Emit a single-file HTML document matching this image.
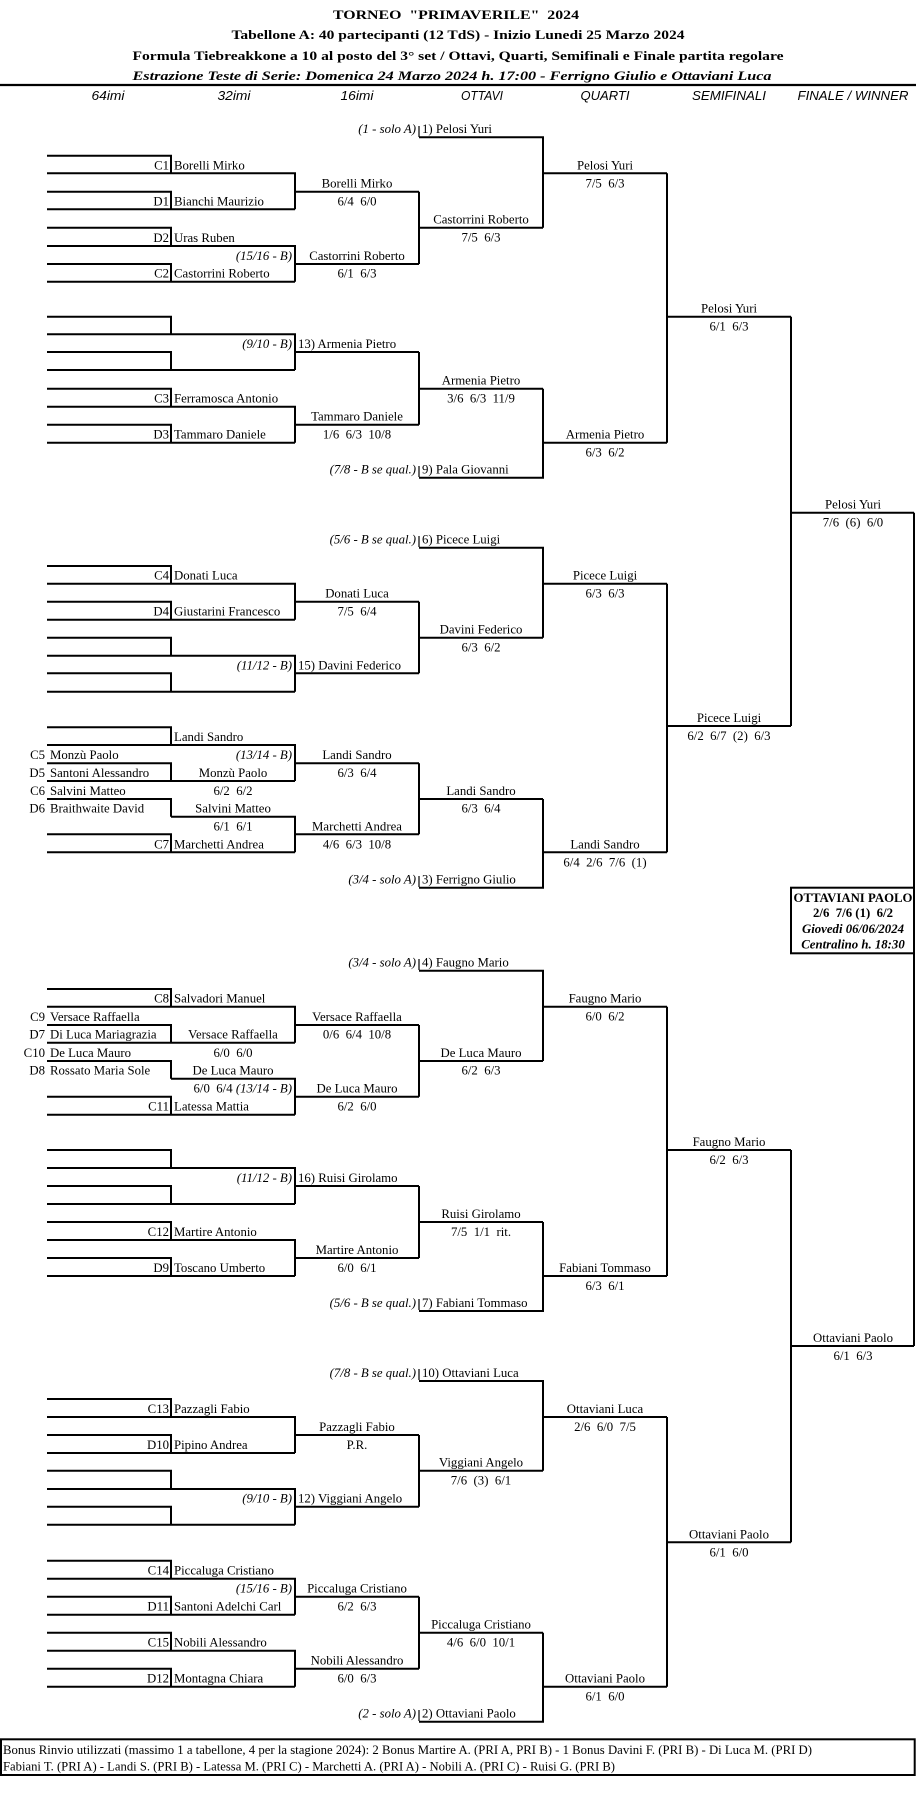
<!DOCTYPE html>
<html><head><meta charset="utf-8"><style>
html,body{margin:0;padding:0;background:#fff;}
svg{display:block;}
text{font-family:"Liberation Serif",serif;font-size:12.8px;fill:#000;white-space:pre;}
.i{font-style:italic;}
.c{text-anchor:middle;}
.e{text-anchor:end;}
.h{font-family:"Liberation Sans",sans-serif;font-style:italic;font-size:13px;text-anchor:middle;}
.b{font-weight:bold;}
</style></head><body>
<svg width="916" height="1793" viewBox="0 0 916 1793" xmlns="http://www.w3.org/2000/svg">
<rect width="916" height="1793" fill="#fff"/>
<!-- header -->
<text class="b c" x="456" y="19" font-size="15" textLength="246" lengthAdjust="spacingAndGlyphs">TORNEO  "PRIMAVERILE"  2024</text>
<text class="b c" x="458" y="39" font-size="14" textLength="453" lengthAdjust="spacingAndGlyphs">Tabellone A: 40 partecipanti (12 TdS) - Inizio Lunedi 25 Marzo 2024</text>
<text class="b c" x="458" y="60" font-size="14" textLength="651" lengthAdjust="spacingAndGlyphs">Formula Tiebreakkone a 10 al posto del 3° set / Ottavi, Quarti, Semifinali e Finale partita regolare</text>
<text class="b i c" x="452" y="80" font-size="14" textLength="639" lengthAdjust="spacingAndGlyphs">Estrazione Teste di Serie: Domenica 24 Marzo 2024 h. 17:00 - Ferrigno Giulio e Ottaviani Luca</text>
<line x1="0" y1="85" x2="916" y2="85" stroke="#000" stroke-width="2.2"/>
<text class="h" x="108" y="100" textLength="33" lengthAdjust="spacingAndGlyphs">64imi</text>
<text class="h" x="234" y="100" textLength="33" lengthAdjust="spacingAndGlyphs">32imi</text>
<text class="h" x="357" y="100" textLength="33" lengthAdjust="spacingAndGlyphs">16imi</text>
<text class="h" x="482" y="100" textLength="42" lengthAdjust="spacingAndGlyphs">OTTAVI</text>
<text class="h" x="605" y="100" textLength="49" lengthAdjust="spacingAndGlyphs">QUARTI</text>
<text class="h" x="729" y="100" textLength="74" lengthAdjust="spacingAndGlyphs">SEMIFINALI</text>
<text class="h" x="853" y="100" textLength="111" lengthAdjust="spacingAndGlyphs">FINALE / WINNER</text>

<g fill="none" stroke="#000" stroke-width="2">
<!-- sec1 -->
<path d="M47 155.7H171V173.3M47 173.3H295V209.3M47 191.7H171V209.3M47 209.3H295M295 191.7H419"/>
<path d="M47 227.7H171V246M47 246H295V281.7M47 264H171V281.7M47 281.7H295M295 264H419"/>
<path d="M419 191.7V264M419 227.7H543M419 137.3H543V227.7M543 173.3H667"/>
<!-- sec2 -->
<path d="M47 316.7H171V334.3M47 334.3H295V370M47 352H171V370M47 370H295M295 352H419"/>
<path d="M47 388.7H171V406.7M47 406.7H295V442.7M47 424.7H171V442.7M47 442.7H295M295 424.7H419"/>
<path d="M419 352V424.7M419 388.7H543M419 477.7H543V388.7M543 442.7H667"/>
<!-- sec3 -->
<path d="M47 566H171V583.7M47 583.7H295V619.7M47 601.7H171V619.7M47 619.7H295M295 601.7H419"/>
<path d="M47 637.7H171V655.7M47 655.7H295V691.7M47 673.3H171V691.7M47 691.7H295M295 673.3H419"/>
<path d="M419 601.7V673.3M419 637.7H543M419 547.7H543V637.7M543 583.7H667"/>
<!-- sec4 -->
<path d="M47 727.3H171V745M47 745H295V781M47 763.3H171V781M47 781H295M295 763.3H419"/>
<path d="M47 799H171V816.7M171 816.7H295V852.3M47 834.3H171V852.3M47 852.3H295M295 834.3H419"/>
<path d="M419 763.3V834.3M419 799H543M419 887.7H543V799M543 852.3H667"/>
<!-- sec5 -->
<path d="M47 989H171V1006.7M47 1006.7H295V1042.7M47 1025H171V1042.7M47 1042.7H295M295 1025H419"/>
<path d="M47 1061H171V1078.7M171 1078.7H295V1114.7M47 1096.7H171V1114.7M47 1114.7H295M295 1096.7H419"/>
<path d="M419 1025V1096.7M419 1061H543M419 970.7H543V1061M543 1006.7H667"/>
<!-- sec6 -->
<path d="M47 1150H171V1168M47 1168H295V1204M47 1186H171V1204M47 1204H295M295 1186H419"/>
<path d="M47 1222H171V1240M47 1240H295V1276M47 1258H171V1276M47 1276H295M295 1258H419"/>
<path d="M419 1186V1258M419 1222H543M419 1311H543V1222M543 1276H667"/>
<!-- sec7 -->
<path d="M47 1399H171V1417M47 1417H295V1453M47 1435H171V1453M47 1453H295M295 1435H419"/>
<path d="M47 1470.7H171V1489M47 1489H295V1524.7M47 1506.7H171V1524.7M47 1524.7H295M295 1506.7H419"/>
<path d="M419 1435V1506.7M419 1470.7H543M419 1381H543V1470.7M543 1417H667"/>
<!-- sec8 -->
<path d="M47 1560.7H171V1578.7M47 1578.7H295V1614.7M47 1596.7H171V1614.7M47 1614.7H295M295 1596.7H419"/>
<path d="M47 1632.7H171V1650.7M47 1650.7H295V1686.7M47 1668.7H171V1686.7M47 1686.7H295M295 1668.7H419"/>
<path d="M419 1596.7V1668.7M419 1632.7H543M419 1721.7H543V1632.7M543 1686.7H667"/>
<!-- quarters/semis/final -->
<path d="M667 173.3V442.7M667 583.7V852.3M667 1006.7V1276M667 1417V1686.7"/>
<path d="M667 316.7H791M667 726H791M667 1150H791M667 1542.3H791"/>
<path d="M791 316.7V726M791 1150V1542.3M791 512.7H914M791 1346H914M914 512.7V1346"/>
</g>
<!-- seed ticks -->
<g stroke="#000" stroke-width="1.2">
<line x1="419" y1="126" x2="419" y2="137"/>
<line x1="419" y1="466" x2="419" y2="477"/>
<line x1="419" y1="536" x2="419" y2="547"/>
<line x1="419" y1="876" x2="419" y2="887"/>
<line x1="419" y1="959" x2="419" y2="970"/>
<line x1="419" y1="1299" x2="419" y2="1310"/>
<line x1="419" y1="1369" x2="419" y2="1380"/>
<line x1="419" y1="1710" x2="419" y2="1721"/>
</g>

<!-- sec1 labels -->
<text class="i e" x="416" y="133">(1 - solo A)</text><text x="422" y="133">1) Pelosi Yuri</text>
<text class="e" x="169" y="169.3">C1</text><text x="174" y="169.3">Borelli Mirko</text>
<text class="e" x="169" y="205.3">D1</text><text x="174" y="205.3">Bianchi Maurizio</text>
<text class="e" x="169" y="242">D2</text><text x="174" y="242">Uras Ruben</text>
<text class="i e" x="292" y="260">(15/16 - B)</text>
<text class="e" x="169" y="277.7">C2</text><text x="174" y="277.7">Castorrini Roberto</text>
<text class="c" x="357" y="187.7">Borelli Mirko</text><text class="c" x="357" y="205.3">6/4  6/0</text>
<text class="c" x="357" y="260">Castorrini Roberto</text><text class="c" x="357" y="277.7">6/1  6/3</text>
<text class="c" x="481" y="223.7">Castorrini Roberto</text><text class="c" x="481" y="241.5">7/5  6/3</text>
<text class="c" x="605" y="169.3">Pelosi Yuri</text><text class="c" x="605" y="187.3">7/5  6/3</text>
<!-- sec2 -->
<text class="i e" x="292" y="348">(9/10 - B)</text><text x="298" y="348">13) Armenia Pietro</text>
<text class="e" x="169" y="402.7">C3</text><text x="174" y="402.7">Ferramosca Antonio</text>
<text class="e" x="169" y="438.7">D3</text><text x="174" y="438.7">Tammaro Daniele</text>
<text class="c" x="357" y="420.7">Tammaro Daniele</text><text class="c" x="357" y="438.7">1/6  6/3  10/8</text>
<text class="c" x="481" y="384.7">Armenia Pietro</text><text class="c" x="481" y="402.7">3/6  6/3  11/9</text>
<text class="i e" x="416" y="473.7">(7/8 - B se qual.)</text><text x="422" y="473.7">9) Pala Giovanni</text>
<text class="c" x="605" y="438.7">Armenia Pietro</text><text class="c" x="605" y="456.7">6/3  6/2</text>
<text class="c" x="729" y="312.7">Pelosi Yuri</text><text class="c" x="729" y="330.7">6/1  6/3</text>
<text class="c" x="853" y="508.7">Pelosi Yuri</text><text class="c" x="853" y="526.7">7/6  (6)  6/0</text>
<!-- sec3 -->
<text class="i e" x="416" y="543.7">(5/6 - B se qual.)</text><text x="422" y="543.7">6) Picece Luigi</text>
<text class="e" x="169" y="579.7">C4</text><text x="174" y="579.7">Donati Luca</text>
<text class="e" x="169" y="615.7">D4</text><text x="174" y="615.7">Giustarini Francesco</text>
<text class="c" x="357" y="597.7">Donati Luca</text><text class="c" x="357" y="615.7">7/5  6/4</text>
<text class="i e" x="292" y="669.3">(11/12 - B)</text><text x="298" y="669.3">15) Davini Federico</text>
<text class="c" x="481" y="633.7">Davini Federico</text><text class="c" x="481" y="651.7">6/3  6/2</text>
<text class="c" x="605" y="579.7">Picece Luigi</text><text class="c" x="605" y="597.7">6/3  6/3</text>
<text class="c" x="729" y="722">Picece Luigi</text><text class="c" x="729" y="740">6/2  6/7  (2)  6/3</text>
<!-- sec4 -->
<text x="174" y="741">Landi Sandro</text>
<text class="e" x="45" y="759">C5</text><text x="50" y="759">Monzù Paolo</text>
<text class="i e" x="292" y="759">(13/14 - B)</text><text class="c" x="357" y="759">Landi Sandro</text>
<text class="e" x="45" y="777">D5</text><text x="50" y="777">Santoni Alessandro</text>
<text class="c" x="233" y="777">Monzù Paolo</text><text class="c" x="357" y="777">6/3  6/4</text>
<text class="e" x="45" y="795">C6</text><text x="50" y="795">Salvini Matteo</text>
<text class="c" x="233" y="795">6/2  6/2</text><text class="c" x="481" y="795">Landi Sandro</text>
<text class="e" x="45" y="812.7">D6</text><text x="50" y="812.7">Braithwaite David</text>
<text class="c" x="233" y="812.7">Salvini Matteo</text><text class="c" x="481" y="812.7">6/3  6/4</text>
<text class="c" x="233" y="830.3">6/1  6/1</text><text class="c" x="357" y="830.3">Marchetti Andrea</text>
<text class="e" x="169" y="848.3">C7</text><text x="174" y="848.3">Marchetti Andrea</text>
<text class="c" x="357" y="848.3">4/6  6/3  10/8</text>
<text class="c" x="605" y="848.3">Landi Sandro</text><text class="c" x="605" y="866.3">6/4  2/6  7/6  (1)</text>
<text class="i e" x="416" y="883.7">(3/4 - solo A)</text><text x="422" y="883.7">3) Ferrigno Giulio</text>
<!-- winner box -->
<rect x="791" y="887.7" width="123" height="65.6" fill="#fff" stroke="#000" stroke-width="2"/>
<text class="b c" x="853" y="902" textLength="119" lengthAdjust="spacingAndGlyphs">OTTAVIANI PAOLO</text>
<text class="b c" x="853" y="917">2/6  7/6 (1)  6/2</text>
<text class="b i c" x="853" y="933">Giovedi 06/06/2024</text>
<text class="b i c" x="853" y="948.5">Centralino h. 18:30</text>
<!-- sec5 -->
<text class="i e" x="416" y="966.7">(3/4 - solo A)</text><text x="422" y="966.7">4) Faugno Mario</text>
<text class="e" x="169" y="1002.7">C8</text><text x="174" y="1002.7">Salvadori Manuel</text>
<text class="e" x="45" y="1021">C9</text><text x="50" y="1021">Versace Raffaella</text>
<text class="c" x="357" y="1021">Versace Raffaella</text>
<text class="e" x="45" y="1038.7">D7</text><text x="50" y="1038.7">Di Luca Mariagrazia</text>
<text class="c" x="233" y="1038.7">Versace Raffaella</text><text class="c" x="357" y="1038.7">0/6  6/4  10/8</text>
<text class="e" x="45" y="1057">C10</text><text x="50" y="1057">De Luca Mauro</text>
<text class="c" x="233" y="1057">6/0  6/0</text><text class="c" x="481" y="1057">De Luca Mauro</text>
<text class="e" x="45" y="1074.7">D8</text><text x="50" y="1074.7">Rossato Maria Sole</text>
<text class="c" x="233" y="1074.7">De Luca Mauro</text><text class="c" x="481" y="1074.7">6/2  6/3</text>
<text class="e" x="292" y="1092.7">6/0  6/4 <tspan class="i">(13/14 - B)</tspan></text>
<text class="c" x="357" y="1092.7">De Luca Mauro</text>
<text class="e" x="169" y="1110.7">C11</text><text x="174" y="1110.7">Latessa Mattia</text>
<text class="c" x="357" y="1110.7">6/2  6/0</text>
<text class="c" x="605" y="1002.7">Faugno Mario</text><text class="c" x="605" y="1020.7">6/0  6/2</text>
<!-- sec6 -->
<text class="c" x="729" y="1146">Faugno Mario</text><text class="c" x="729" y="1164">6/2  6/3</text>
<text class="i e" x="292" y="1182">(11/12 - B)</text><text x="298" y="1182">16) Ruisi Girolamo</text>
<text class="e" x="169" y="1236">C12</text><text x="174" y="1236">Martire Antonio</text>
<text class="e" x="169" y="1272">D9</text><text x="174" y="1272">Toscano Umberto</text>
<text class="c" x="357" y="1254">Martire Antonio</text><text class="c" x="357" y="1272">6/0  6/1</text>
<text class="c" x="481" y="1218">Ruisi Girolamo</text><text class="c" x="481" y="1236">7/5  1/1  rit.</text>
<text class="i e" x="416" y="1307">(5/6 - B se qual.)</text><text x="422" y="1307">7) Fabiani Tommaso</text>
<text class="c" x="605" y="1272">Fabiani Tommaso</text><text class="c" x="605" y="1290">6/3  6/1</text>
<text class="c" x="853" y="1342">Ottaviani Paolo</text><text class="c" x="853" y="1360">6/1  6/3</text>
<!-- sec7 -->
<text class="i e" x="416" y="1377">(7/8 - B se qual.)</text><text x="422" y="1377">10) Ottaviani Luca</text>
<text class="e" x="169" y="1413">C13</text><text x="174" y="1413">Pazzagli Fabio</text>
<text class="e" x="169" y="1449">D10</text><text x="174" y="1449">Pipino Andrea</text>
<text class="c" x="357" y="1431">Pazzagli Fabio</text><text class="c" x="357" y="1449">P.R.</text>
<text class="c" x="605" y="1413">Ottaviani Luca</text><text class="c" x="605" y="1431">2/6  6/0  7/5</text>
<text class="c" x="481" y="1466.7">Viggiani Angelo</text><text class="c" x="481" y="1484.7">7/6  (3)  6/1</text>
<text class="i e" x="292" y="1502.7">(9/10 - B)</text><text x="298" y="1502.7">12) Viggiani Angelo</text>
<text class="c" x="729" y="1538.3">Ottaviani Paolo</text><text class="c" x="729" y="1556.3">6/1  6/0</text>
<!-- sec8 -->
<text class="e" x="169" y="1574.7">C14</text><text x="174" y="1574.7">Piccaluga Cristiano</text>
<text class="i e" x="292" y="1592.7">(15/16 - B)</text><text class="c" x="357" y="1592.7">Piccaluga Cristiano</text>
<text class="e" x="169" y="1610.7">D11</text><text x="174" y="1610.7">Santoni Adelchi Carl</text>
<text class="c" x="357" y="1610.7">6/2  6/3</text>
<text class="c" x="481" y="1628.7">Piccaluga Cristiano</text><text class="c" x="481" y="1646.7">4/6  6/0  10/1</text>
<text class="e" x="169" y="1646.7">C15</text><text x="174" y="1646.7">Nobili Alessandro</text>
<text class="c" x="357" y="1664.7">Nobili Alessandro</text><text class="c" x="357" y="1682.7">6/0  6/3</text>
<text class="e" x="169" y="1682.7">D12</text><text x="174" y="1682.7">Montagna Chiara</text>
<text class="c" x="605" y="1682.7">Ottaviani Paolo</text><text class="c" x="605" y="1700.7">6/1  6/0</text>
<text class="i e" x="416" y="1717.7">(2 - solo A)</text><text x="422" y="1717.7">2) Ottaviani Paolo</text>
<!-- footer -->
<rect x="1" y="1739.3" width="913.7" height="35.7" fill="none" stroke="#000" stroke-width="2"/>
<text x="3" y="1754" font-size="12.5" textLength="809" lengthAdjust="spacingAndGlyphs">Bonus Rinvio utilizzati (massimo 1 a tabellone, 4 per la stagione 2024): 2 Bonus Martire A. (PRI A, PRI B) - 1 Bonus Davini F. (PRI B) - Di Luca M. (PRI D)</text>
<text x="3" y="1770.5" font-size="12.5" textLength="612" lengthAdjust="spacingAndGlyphs">Fabiani T. (PRI A) - Landi S. (PRI B) - Latessa M. (PRI C) - Marchetti A. (PRI A) - Nobili A. (PRI C) - Ruisi G. (PRI B)</text>
</svg>
</body></html>
